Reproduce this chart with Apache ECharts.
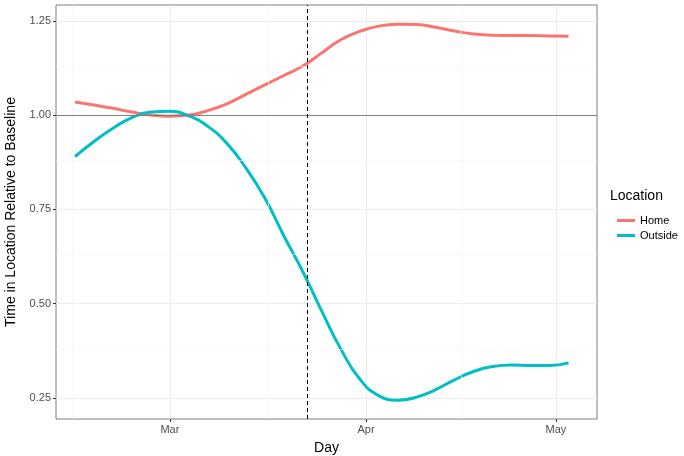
<!DOCTYPE html>
<html><head><meta charset="utf-8">
<script src="https://cdn.jsdelivr.net/npm/echarts@6/dist/echarts.min.js"></script>
<style>html,body{margin:0;padding:0;background:#fff}#c{width:684px;height:456px}</style>
</head><body><div id="c"></div>
<script>
// day 0 = Mar 1
const days = [-15,-12,-9,-6,-3,0,3,6,9,12,15,18,21,24,27,30,33,36,39,42,45,48,51,54,57,60,63];
const home = [1.035,1.027,1.018,1.008,1.0,0.997,1.0,1.012,1.03,1.055,1.08,1.105,1.13,1.165,1.2,1.222,1.236,1.241,1.24,1.233,1.223,1.215,1.212,1.211,1.211,1.21,1.209];
const outside = [0.89,0.93,0.965,0.993,1.008,1.01,0.998,0.97,0.925,0.86,0.78,0.68,0.585,0.48,0.38,0.3,0.256,0.244,0.252,0.272,0.298,0.32,0.333,0.337,0.336,0.336,0.343];
const majorTicks = {0:'Mar',31:'Apr',61:'May'};
const minorBreaks = [-15.5,15.5,46];
const yMinor = [0.375,0.625,0.875,1.125];
const interventionDay = 21.7;
const baseline = 1.0;

const chart = echarts.init(document.getElementById('c'));
const font = 'Liberation Sans, Arial, sans-serif';
chart.setOption({
  animation:false,
  grid:{left:56,right:87,top:5,bottom:37,containLabel:false,outerBoundsMode:'none',show:true,borderColor:'#7f7f7f',borderWidth:1,backgroundColor:'#fff'},
  xAxis:{type:'value',min:-18,max:67.5,
    axisTick:{show:true,customValues:[0,31,61],length:3,inside:false,lineStyle:{color:'#333'}},
    axisLabel:{customValues:[0,31,61],formatter:v=>majorTicks[Math.round(v)]||'',color:'#4d4d4d',fontSize:11,fontFamily:font,margin:5},
    splitLine:{show:true,lineStyle:{color:'#ebebeb'}},
    axisLine:{show:false,onZero:false},
    name:'Day',nameLocation:'middle',nameGap:22,nameTextStyle:{fontSize:14,color:'#000',fontFamily:font}},
  yAxis:{type:'value',min:0.194,max:1.292,
    axisTick:{show:true,customValues:[0.25,0.5,0.75,1.0,1.25],length:3,inside:false,lineStyle:{color:'#333'}},
    axisLabel:{customValues:[0.25,0.5,0.75,1.0,1.25],formatter:v=>v.toFixed(2),color:'#4d4d4d',fontSize:11,fontFamily:font,margin:5},
    splitLine:{show:true,lineStyle:{color:'#ebebeb'}},
    axisLine:{show:false,onZero:false},
    name:'Time in Location Relative to Baseline',nameLocation:'middle',nameGap:38,nameTextStyle:{fontSize:14,color:'#000',fontFamily:font}},
  legend:{orient:'vertical',left:612,top:210,itemWidth:18,itemHeight:3,icon:'rect',itemGap:4,
    textStyle:{fontSize:11,color:'#000',fontFamily:font},data:['Home','Outside']},
  graphic:[{type:'text',left:610,top:189,style:{text:'Location',fontSize:14,fill:'#000',fontFamily:font}}],
  series:[
    {type:'line',name:'minor',data:[],silent:true,
      markLine:{symbol:'none',silent:true,label:{show:false},lineStyle:{color:'#f4f4f4',width:0.6,type:'solid'},
        data:minorBreaks.map(v=>({xAxis:v})).concat(yMinor.map(v=>({yAxis:v})))}},
    {type:'line',name:'ref',data:[],silent:true,
      markLine:{symbol:'none',silent:true,label:{show:false},
        data:[{yAxis:baseline,lineStyle:{color:'#7f7f7f',width:1.2,type:'solid'}},
              {xAxis:interventionDay,lineStyle:{color:'#000',width:1,type:[4,3]}}]}},
    {type:'line',name:'Home',smooth:true,showSymbol:false,data:days.map((d,i)=>[d,home[i]]),
      lineStyle:{color:'#F8766D',width:3},itemStyle:{color:'#F8766D'}},
    {type:'line',name:'Outside',smooth:true,showSymbol:false,data:days.map((d,i)=>[d,outside[i]]),
      lineStyle:{color:'#00BFC4',width:3},itemStyle:{color:'#00BFC4'}}
  ]
});
</script></body></html>
